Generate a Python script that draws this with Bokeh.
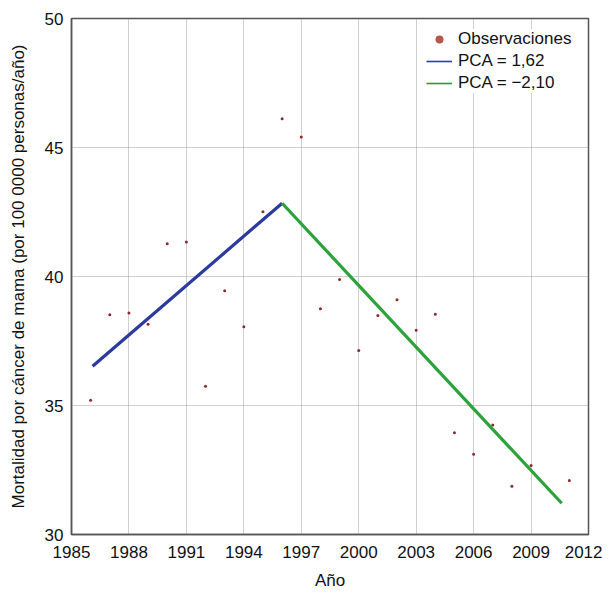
from bokeh.plotting import figure
from bokeh.models import FixedTicker, Range1d, Legend, LegendItem
from bokeh.embed import file_html
from bokeh.resources import INLINE

years = [1986, 1987, 1988, 1989, 1990, 1991, 1992, 1993, 1994, 1995, 1996, 1997, 1998,
         1999, 2000, 2001, 2002, 2003, 2004, 2005, 2006, 2007, 2008, 2009, 2011]
mortality = [35.2, 38.52, 38.59, 38.15, 41.27, 41.34, 35.75, 39.45, 38.05, 42.51, 46.11, 45.41, 38.75,
             39.88, 37.13, 38.49, 39.10, 37.92, 38.54, 33.94, 33.11, 34.24, 31.87, 32.67, 32.09]

seg1_x = [1986.1, 1996.0]
seg1_y = [36.52, 42.84]
seg2_x = [1996.0, 2010.6]
seg2_y = [42.84, 31.21]

x_ticks = [1985, 1988, 1991, 1994, 1997, 2000, 2003, 2006, 2009, 2012]
y_ticks = [30, 35, 40, 45, 50]

FONT = "Liberation Sans"

p = figure(frame_width=517, frame_height=516, output_backend="svg", toolbar_location=None,
           x_range=Range1d(1985, 2012), y_range=Range1d(30, 50),
           min_border_left=71, min_border_top=18, min_border_right=14, min_border_bottom=40)
p.background_fill_color = "white"
p.border_fill_color = "white"
p.outline_line_color = "#555555"
p.outline_line_width = 1.5
p.outline_line_alpha = 1.0

for ax in (p.xaxis[0], p.yaxis[0]):
    ax.axis_line_color = "#555555"
    ax.axis_line_width = 1.5
    ax.major_tick_in = 0
    ax.major_tick_out = 0
    ax.minor_tick_in = 0
    ax.minor_tick_out = 0
    ax.major_label_text_font = FONT
    ax.major_label_text_font_size = "17px"
    ax.major_label_text_color = "#111111"
    ax.axis_label_text_font = FONT
    ax.axis_label_text_font_size = "17px"
    ax.axis_label_text_font_style = "normal"
    ax.axis_label_text_color = "#111111"

p.xaxis.ticker = FixedTicker(ticks=x_ticks)
p.yaxis.ticker = FixedTicker(ticks=y_ticks)
p.xaxis.axis_label = "Año"
p.yaxis.axis_label = "Mortalidad por cáncer de mama (por 100 0000 personas/año)"
p.xaxis.major_label_standoff = 11
p.yaxis.major_label_standoff = 8
p.xaxis.axis_label_standoff = 10
p.yaxis.axis_label_standoff = 14

p.xgrid.ticker = FixedTicker(ticks=x_ticks)
p.ygrid.ticker = FixedTicker(ticks=y_ticks)
p.grid.grid_line_color = "#8f8f8f"
p.grid.grid_line_dash = "1 1"
p.grid.grid_line_width = 1
p.grid.grid_line_alpha = 0.85

r_pts = p.scatter(years, mortality, size=3, color="#8B2A2A", line_color=None)
r_b = p.line(seg1_x, seg1_y, line_color="#2B3A9C", line_width=3.2)
r_g = p.line(seg2_x, seg2_y, line_color="#2BA33A", line_width=3.2)

# legend-only renderers with visible markers
lg_pts = p.scatter([None], [None], size=5, color="#B5574B", line_color=None)
lg_b = p.line([None], [None], line_color="#2B3AC8", line_width=1.6)
lg_g = p.line([None], [None], line_color="#2A9A2A", line_width=1.6)

legend = Legend(items=[LegendItem(label="Observaciones", renderers=[lg_pts]),
                       LegendItem(label="PCA = 1,62", renderers=[lg_b]),
                       LegendItem(label="PCA = \u22122,10", renderers=[lg_g])],
                location=(355, 441))
legend.label_text_font = FONT
legend.label_text_font_size = "17px"
legend.label_text_color = "#111111"
legend.border_line_color = None
legend.background_fill_color = "white"
legend.background_fill_alpha = 1.0
legend.glyph_width = 26
legend.glyph_height = 20
legend.label_height = 20
legend.label_standoff = 6
legend.spacing = 2
legend.padding = 6
legend.margin = 0
p.add_layout(legend)

open("out.html", "w").write(file_html(p, INLINE))
